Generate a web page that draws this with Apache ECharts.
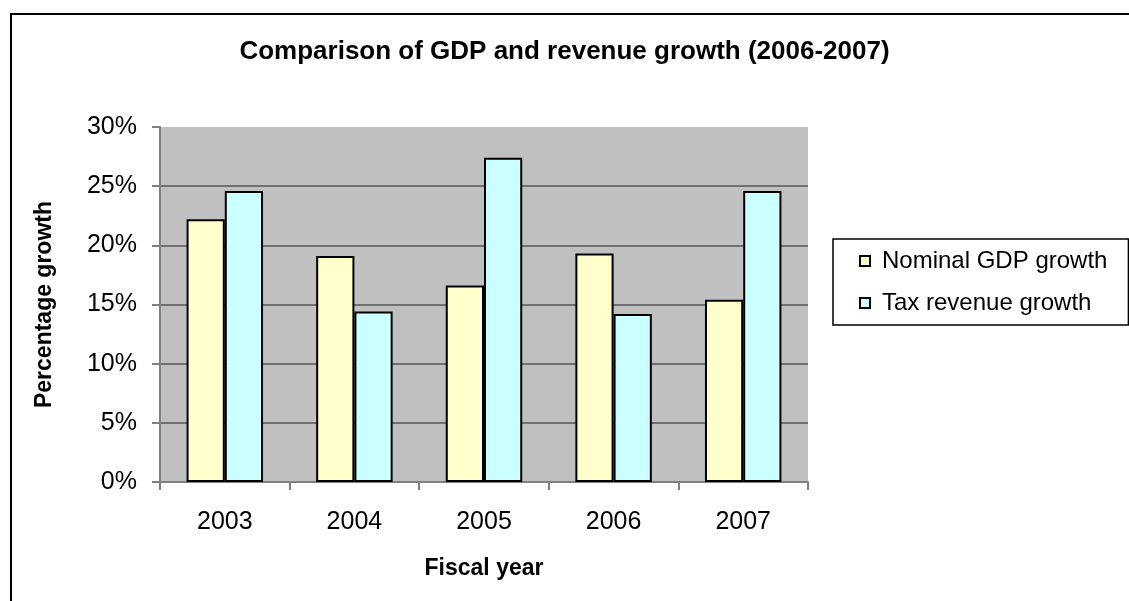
<!DOCTYPE html>
<html>
<head>
<meta charset="utf-8">
<script src="https://cdn.jsdelivr.net/npm/echarts@6/dist/echarts.min.js"></script>
<style>
html,body{margin:0;padding:0;background:#fff;}
#chart{width:1129px;height:601px;}
</style>
</head>
<body>
<div id="chart"></div>
<script>
const categories = ['2003', '2004', '2005', '2006', '2007'];
const nominalGdpGrowth = [22.2, 19.1, 16.6, 19.3, 15.4];
const taxRevenueGrowth = [24.6, 14.4, 27.4, 14.2, 24.6];
const seriesNames = ['Nominal GDP growth', 'Tax revenue growth'];
const yTicks = { min: 0, max: 30, interval: 5 };

const FONT = 'Liberation Sans, Arial, sans-serif';
const chart = echarts.init(document.getElementById('chart'), null, { renderer: 'canvas' });

chart.setOption({
  animation: false,
  backgroundColor: '#ffffff',
  graphic: [{
    type: 'rect',
    shape: { x: 11, y: 14, width: 1300, height: 800 },
    style: { fill: 'none', stroke: '#000', lineWidth: 2 },
    silent: true,
    z: 100
  }],
  title: {
    text: 'Comparison of GDP and revenue growth (2006-2007)',
    left: 'center',
    top: 39,
    padding: 0,
    textStyle: { fontFamily: FONT, fontSize: 26, fontWeight: 'bold', color: '#000' }
  },
  legend: {
    orient: 'vertical',
    left: 833,
    top: 239,
    padding: [10, 21, 10, 26],
    itemGap: 18,
    itemWidth: 10,
    itemHeight: 10,
    icon: 'rect',
    borderColor: '#000',
    borderWidth: 1.5,
    borderRadius: 0,
    backgroundColor: '#fff',
    textStyle: { fontFamily: FONT, fontSize: 24, color: '#000', padding: [0, 0, 0, 7] },
    data: seriesNames
  },
  grid: {
    left: 160, right: 321, top: 127, bottom: 119,
    show: true, backgroundColor: '#C0C0C0', borderWidth: 0
  },
  xAxis: {
    type: 'category',
    data: categories,
    name: 'Fiscal year',
    nameLocation: 'middle',
    nameGap: 75,
    nameTextStyle: { fontFamily: FONT, fontSize: 23, fontWeight: 'bold', color: '#000' },
    axisLine: { lineStyle: { color: '#808080', width: 2 } },
    axisTick: { show: true, length: 8, inside: false, lineStyle: { color: '#808080', width: 2 } },
    axisLabel: { fontFamily: FONT, fontSize: 25, color: '#000', margin: 28 },
    splitLine: { show: false }
  },
  yAxis: {
    type: 'value',
    min: yTicks.min, max: yTicks.max, interval: yTicks.interval,
    name: 'Percentage growth',
    nameLocation: 'middle',
    nameGap: 104,
    nameRotate: 90,
    nameTextStyle: { fontFamily: FONT, fontSize: 23, fontWeight: 'bold', color: '#000' },
    axisLine: { show: true, lineStyle: { color: '#808080', width: 2 } },
    axisTick: { show: true, length: 8, inside: false, lineStyle: { color: '#808080', width: 2 } },
    axisLabel: { fontFamily: FONT, fontSize: 25, color: '#000', margin: 23, formatter: '{value}%' },
    splitLine: {
      show: true,
      lineStyle: {
        color: ['#707070', '#707070', '#707070', '#707070', '#707070', '#707070', 'rgba(0,0,0,0)'],
        width: 2
      }
    }
  },
  series: [
    {
      name: seriesNames[0],
      type: 'bar',
      data: nominalGdpGrowth,
      barGap: '0%',
      barCategoryGap: '41%',
      itemStyle: { color: '#FFFFCC', borderColor: '#000', borderWidth: 2 }
    },
    {
      name: seriesNames[1],
      type: 'bar',
      data: taxRevenueGrowth,
      barGap: '0%',
      barCategoryGap: '41%',
      itemStyle: { color: '#CCFFFF', borderColor: '#000', borderWidth: 2 }
    }
  ]
});
</script>
</body>
</html>
